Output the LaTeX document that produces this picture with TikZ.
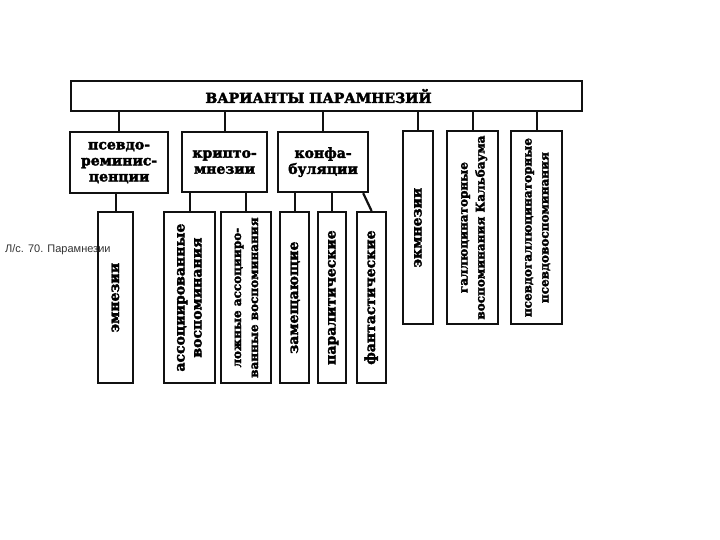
\documentclass[tikz,border=0pt]{standalone}
\usepackage{fontspec}
\setmainfont{DejaVu Serif}[BoldFeatures={FakeBold=2.5}]
\newfontfamily\captionfont{Liberation Sans}
\usepackage{tikz}
\usetikzlibrary{arrows.meta,calc,positioning}
\definecolor{inkblack}{HTML}{111111}
\definecolor{notegray}{HTML}{333333}
\newcommand{\vtext}[1]{\rotatebox{90}{\begin{tabular}{@{}c@{}}#1\end{tabular}}}
\tikzset{
  titlebox/.style={draw=inkblack, line width=2.2pt, anchor=north west, inner sep=0pt,
    minimum width=511pt, minimum height=30pt, font=\fontsize{14}{16}\selectfont\bfseries},
  groupbox/.style={draw=inkblack, line width=2.2pt, anchor=north west, inner sep=0pt, align=center,
    font=\fontsize{14}{16}\selectfont\bfseries},
  vbox/.style={draw=inkblack, line width=2.2pt, anchor=north west, inner sep=0pt,
    font=\fontsize{14}{17}\selectfont\bfseries},
  longvbox/.style={vbox, font=\fontsize{12}{17}\selectfont\bfseries},
  link/.style={inkblack, line width=2.2pt},
  notenode/.style={anchor=west, inner sep=0pt, text=notegray, font=\captionfont\fontsize{11}{13}\selectfont}
}

\begin{document}
\begin{tikzpicture}[x=1pt, y=-1pt]
  \useasboundingbox (0,0) rectangle (720,540);
  % header
  \node[titlebox] (title) at (70,80) {ВАРИАНТЫ ПАРАМНЕЗИЙ\hspace*{16pt}};
  % second row
  \node[groupbox, minimum width=98pt, minimum height=61pt] (pseudo) at (69,131) {псевдо-\\реминис-\\ценции};
  \node[groupbox, minimum width=85pt, minimum height=60pt] (crypto) at (181,131) {крипто-\\мнезии};
  \node[groupbox, minimum width=90pt, minimum height=60pt] (confab) at (277,131) {конфа-\\буляции};
  \node[vbox, minimum width=30pt, minimum height=193pt] (ecmn) at (402,130) {\vtext{экмнезии}};
  \node[longvbox, minimum width=51pt, minimum height=193pt] (halluc) at (446,130) {\vtext{галлюцинаторные\\воспоминания Кальбаума}};
  \node[longvbox, minimum width=51pt, minimum height=193pt] (pshalluc) at (510,130) {\vtext{псевдогаллюцинаторные\\псевдовоспоминания}};
  % third row
  \node[vbox, minimum width=35pt, minimum height=171pt] (emn) at (97,211) {\vtext{эмнезии}};
  \node[vbox, minimum width=51pt, minimum height=171pt] (assoc) at (163,211) {\vtext{ассоциированные\\воспоминания}};
  \node[longvbox, minimum width=50pt, minimum height=171pt] (falseassoc) at (220,211) {\vtext{ложные ассоцииро-\\ванные воспоминания}};
  \node[vbox, minimum width=29pt, minimum height=171pt] (replace) at (279,211) {\vtext{замещающие}};
  \node[vbox, minimum width=28pt, minimum height=171pt] (paral) at (317,211) {\vtext{паралитические}};
  \node[vbox, minimum width=29pt, minimum height=171pt] (fant) at (356,211) {\vtext{фантастические}};
  % links from header
  \foreach \n in {pseudo,crypto,confab,ecmn,halluc,pshalluc}
    \draw[link] (\n.north |- title.south) -- (\n.north);
  % links to third row
  \draw[link] (emn.north |- pseudo.south) -- (emn.north);
  \draw[link] (assoc.north |- crypto.south) -- (assoc.north);
  \draw[link] (falseassoc.north |- crypto.south) -- (falseassoc.north);
  \draw[link] (replace.north |- confab.south) -- (replace.north);
  \draw[link] (paral.north |- confab.south) -- (paral.north);
  \draw[link] ([xshift=-6pt]confab.south east) -- (fant.north);
  % caption
  \node[notenode] (note) at (5,250) {Л/с. 70. Парамнезии};
\end{tikzpicture}
\end{document}
